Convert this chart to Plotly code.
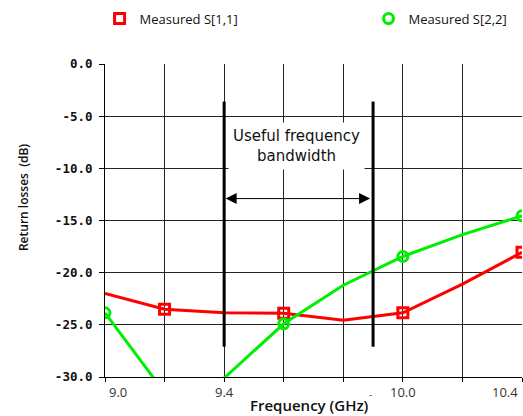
import plotly.graph_objects as go

# ---- data ----
freq = [9.0, 9.2, 9.4, 9.6, 9.8, 10.0, 10.2, 10.4]
s11 = [-22.0, -23.5, -23.85, -23.9, -24.55, -23.85, -21.1, -18.05]
s22 = [-23.85, -31.5, -30.1, -24.9, -21.2, -18.45, -16.35, -14.55]
s11_marked = [1, 3, 5, 7]   # indices with markers
s22_marked = [0, 3, 5, 7]

x_gridvals = [9.0, 9.2, 9.4, 9.6, 9.8, 10.0, 10.2, 10.4]
x_labels = {9.0: "9.0", 9.4: "9.4", 10.0: "10.0", 10.4: "10.4"}
y_tickvals = [0, -5, -10, -15, -20, -25, -30]
y_ticktext = ["0.0", "-5.0", "-10.0", "-15.0", "-20.0", "-25.0", "-30.0"]

band_lo, band_hi = 9.4, 9.9
band_top, band_bottom = -3.6, -27.1
arrow_y = -12.9
label_x, label_y = 9.642, -7.9

RED = "#ff0000"
GREEN = "#00ee00"

fig = go.Figure()
fig.add_trace(go.Scatter(x=freq, y=s11, mode="lines", line=dict(color=RED, width=3),
                         showlegend=False, hoverinfo="skip"))
fig.add_trace(go.Scatter(x=[freq[i] for i in s11_marked], y=[s11[i] for i in s11_marked],
                         mode="markers", name="Measured S[1,1]", legend="legend",
                         marker=dict(symbol="square-open", size=10, color=RED, line=dict(width=3))))
fig.add_trace(go.Scatter(x=freq, y=s22, mode="lines", line=dict(color=GREEN, width=3),
                         showlegend=False, hoverinfo="skip"))
fig.add_trace(go.Scatter(x=[freq[i] for i in s22_marked], y=[s22[i] for i in s22_marked],
                         mode="markers", name="Measured S[2,2]", legend="legend2",
                         marker=dict(symbol="circle-open", size=10, color=GREEN, line=dict(width=3))))

# band lines
for bx in (band_lo, band_hi):
    fig.add_shape(type="line", x0=bx, x1=bx, y0=band_bottom, y1=band_top, xref="x", yref="y",
                  line=dict(color="black", width=3), layer="above")

annotations = []
annotations.append(dict(x=band_lo, y=arrow_y, ax=band_hi, ay=arrow_y, xref="x", yref="y",
                        axref="x", ayref="y", text="", showarrow=True,
                        arrowside="end+start", arrowhead=2, startarrowhead=2,
                        arrowsize=2.2, startarrowsize=2.2, arrowwidth=1, arrowcolor="black",
                        standoff=1.5, startstandoff=1.5))
annotations.append(dict(x=label_x, y=label_y, xref="x", yref="y", showarrow=False,
                        text="Useful frequency<br>bandwidth", bgcolor="white", borderpad=4,
                        font=dict(family="DejaVu Sans", size=15, color="#111")))
for v, t in x_labels.items():
    anchor = "center"
    shift = 0
    if v == x_gridvals[0]:
        anchor, shift = "left", 2
    elif v == x_gridvals[-1]:
        anchor, shift = "right", -2
    annotations.append(dict(x=v, y=-0.012, xref="x", yref="paper", yanchor="top", xanchor=anchor,
                            xshift=shift, showarrow=False, text=t,
                            font=dict(family="Open Sans", size=13, color="#333")))
annotations.append(dict(x=band_hi, y=-0.025, xref="x", yref="paper", yanchor="top", xshift=-3,
                        showarrow=False, text="-", font=dict(family="Open Sans", size=10, color="#555")))
annotations.append(dict(x=-0.194, y=0.572, xref="paper", yref="paper", xanchor="center",
                        yanchor="middle", textangle=-90, showarrow=False,
                        text="Return losses  (dB)",
                        font=dict(family="Open Sans", size=12, color="#111", weight=600)))
annotations.append(dict(x=0.49, y=-0.05, xref="paper", yref="paper", yanchor="top", showarrow=False,
                        text="Frequency (GHz)",
                        font=dict(family="Open Sans", size=15, color="#111", weight=600)))

legend_common = dict(orientation="h", xanchor="left", yanchor="middle", itemwidth=30,
                     font=dict(family="Open Sans", size=13, color="#111"),
                     bgcolor="rgba(0,0,0,0)")

fig.update_layout(
    width=523, height=416,
    margin=dict(l=105, r=1, t=64, b=39),
    paper_bgcolor="white", plot_bgcolor="white",
    annotations=annotations,
    legend=dict(x=-0.013, y=1.145, **legend_common),
    legend2=dict(x=0.632, y=1.145, **legend_common),
    xaxis=dict(range=[9.0, 10.4], tickvals=x_gridvals, showticklabels=False, automargin=False,
               showgrid=True, gridcolor="#222", gridwidth=1, zeroline=False,
               showline=True, linecolor="black", linewidth=1,
               ticks="outside", ticklen=4, tickcolor="black"),
    yaxis=dict(range=[-30, 0], tickvals=y_tickvals, ticktext=y_ticktext, automargin=False,
               showgrid=True, gridcolor="#222", gridwidth=1, zeroline=False,
               showline=True, linecolor="black", linewidth=1,
               ticks="outside", ticklen=5, tickcolor="black", ticklabelstandoff=4,
               tickfont=dict(family="DejaVu Sans Mono", size=12.5, color="#111", weight="bold")),
)

fig.write_html("out.html", config={"displayModeBar": False},
               post_script="document.body.style.margin='0';document.body.style.overflow='hidden';")
